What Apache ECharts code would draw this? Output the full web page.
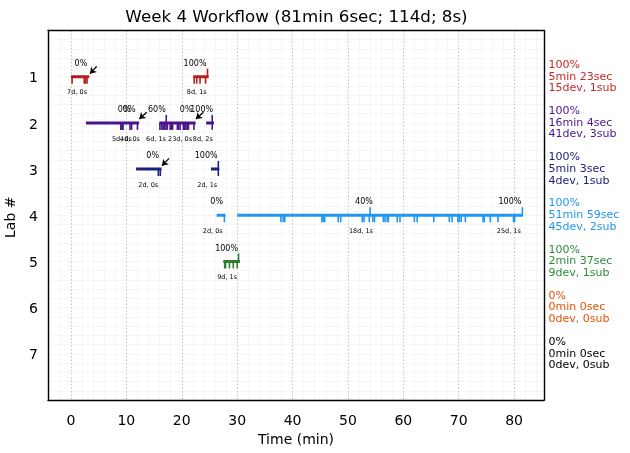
<!DOCTYPE html>
<html><head><meta charset="utf-8">
<script src="https://cdn.jsdelivr.net/npm/echarts@6/dist/echarts.min.js"></script>
<style>html,body{margin:0;padding:0;background:#fff}#c{width:630px;height:453px}</style>
</head><body><div id="c"></div>
<script>
const titleText = 'Week 4 Workflow (81min 6sec; 114d; 8s)';
const labs = [1,2,3,4,5,6,7];
const xTicks = [0,10,20,30,40,50,60,70,80];
const xMinorTicks = [-4,-2,2,4,6,8,12,14,16,18,22,24,26,28,32,34,36,38,42,44,46,48,52,54,56,58,62,64,66,68,72,74,76,78,82,84];
const labColors = ['#b71c1c','#4a148c','#1a237e','#2196f3','#2e7d32','#e65100','#000000'];
const sideColors = ['#c62828','#4a148c','#1a237e','#2196f3','#2e8b37','#e65100','#000000'];
const sideText = [
 '100%\n5min 23sec\n15dev, 1sub','100%\n16min 4sec\n41dev, 3sub','100%\n5min 3sec\n4dev, 1sub',
 '100%\n51min 59sec\n45dev, 2sub','100%\n2min 37sec\n9dev, 1sub','0%\n0min 0sec\n0dev, 0sub','0%\n0min 0sec\n0dev, 0sub'];
const workSpans = [
 [[0,3.3],[22.1,24.85]],
 [[2.7,12.3],[15.95,22.5],[24.4,25.8]],
 [[11.75,16.35],[25.27,26.77]],
 [[26.3,27.9],[30,81.6]],
 [[27.5,30.5]],[],[]];
const devTimes = [
 [0.2,2.4,2.6,2.9,22.25,22.7,23.3,24.3],
 [9,9.2,9.4,10.65,10.95,12,16.06,16.4,16.67,16.9,17.15,17.4,17.9,18.1,18.35,19.2,19.4,19.7,20.3,20.5,20.75,21,21.2,22.2,25.5],
 [15.77,16.13,26.6],
 [27.7,37.9,38.3,38.6,45.3,45.55,45.8,48.25,48.7,52.6,52.9,53.85,54.5,54.8,56.4,56.7,57.1,57.3,58.9,59.4,62,62.5,65.5,68.3,68.8,69.85,70.1,70.45,71.2,74.4,74.6,75.7,77.1,79.9,80.1],
 [27.75,27.9,28.6,29.3,30],[],[]];
const subTimes = [[24.65],[17.2,25.5],[26.6],[54,81.5],[30.25],[],[]];
const pctLabels = [
 [1.8,1,'0%'],[22.4,1,'100%'],
 [9.6,2,'0%'],[10.5,2,'0%'],[15.5,2,'60%'],[20.8,2,'0%'],[23.6,2,'100%'],
 [14.75,3,'0%'],[24.4,3,'100%'],
 [26.3,4,'0%'],[52.9,4,'40%'],[79.25,4,'100%'],
 [28.1,5,'100%']];
const gapLabels = [
 [1.1,1,'7d, 0s'],[22.7,1,'8d, 1s'],
 [9.2,2,'5d, 0s'],[10.65,2,'4d, 0s'],[15.35,2,'6d, 1s'],[19.7,2,'23d, 0s'],[23.8,2,'8d, 2s'],
 [13.95,3,'2d, 0s'],[24.6,3,'2d, 1s'],
 [25.6,4,'2d, 0s'],[52.35,4,'18d, 1s'],[79.05,4,'25d, 1s'],
 [28.2,5,'9d, 1s']];
const arrows = [
 [[4.64,0.78],[3.43,0.935]],
 [[13.67,1.77],[12.33,1.916]],
 [[23.9,1.77],[22.55,1.916]],
 [[17.7,2.77],[16.42,2.928]]];
const xMin = -4.15, xMax = 85.4;
const font = 'DejaVu Sans';

const series = [];
labs.forEach((lab,i)=>{
  const pts=[];
  workSpans[i].forEach(s=>{pts.push([s[0],lab],[s[1],lab],[null,null]);});
  series.push({type:'line',data:pts,showSymbol:false,connectNulls:false,silent:true,z:3,
    lineStyle:{color:labColors[i],width:3,cap:'butt'}});
  series.push({type:'scatter',data:devTimes[i].map(t=>[t,lab]),symbol:'rect',symbolSize:[1.6,7],symbolOffset:[0,3.5],
    itemStyle:{color:labColors[i],opacity:1},silent:true,z:3});
  series.push({type:'scatter',data:subTimes[i].map(t=>[t,lab]),symbol:'rect',symbolSize:[1.6,8],symbolOffset:[0,-4],
    itemStyle:{color:labColors[i],opacity:1},silent:true,z:3});
});
const textSeries=(arr,pos,dist,size)=>({type:'scatter',data:arr.map(a=>({value:[a[0],a[1]],label:{formatter:a[2]}})),
  symbolSize:1,itemStyle:{color:'transparent',opacity:1},silent:true,z:5,
  label:{show:true,position:pos,distance:dist,fontSize:size,fontFamily:font,color:'#000'}});
series.push(textSeries(pctLabels,'top',8.5,8));
series.push(textSeries(gapLabels,'bottom',12,6.5));
series.push({type:'lines',coordinateSystem:'cartesian2d',silent:true,z:6,
  data:arrows.map(a=>({coords:a})),symbol:['none','arrow'],symbolSize:[0,6],
  lineStyle:{color:'#000',width:1.2,opacity:1,curveness:0}});
series.push({type:'scatter',clip:false,silent:true,z:5,symbolSize:1,itemStyle:{color:'transparent',opacity:1},
  data:labs.map((lab,i)=>({value:[xMax,lab],label:{formatter:sideText[i],color:sideColors[i]}})),
  label:{show:true,position:'right',distance:4,fontSize:11,lineHeight:11.7,fontFamily:font,align:'left'}});

const majorLine = {show:true,lineStyle:{color:'#c4c4c4',type:[1.5,2],width:1}};
const minorLine = {show:true,lineStyle:{color:'#f6f6f6',width:1}};
const frame = {show:true,onZero:false,lineStyle:{color:'#000',width:1.4}};
const chart = echarts.init(document.getElementById('c'),null,{renderer:'canvas'});
chart.setOption({
  animation:false,backgroundColor:'#fff',
  title:{text:titleText,left:291.5,top:4,textAlign:'center',textStyle:{fontFamily:font,fontSize:16.7,fontWeight:'normal',color:'#000'}},
  grid:{left:48,right:86,top:30.5,height:369.5,show:false,outerBoundsMode:'none',containLabel:false},
  xAxis:[
   {type:'value',min:xMin,max:xMax,position:'bottom',name:'Time (min)',nameLocation:'middle',nameGap:28,
    nameTextStyle:{fontFamily:font,fontSize:14,color:'#000'},
    axisLine:frame,
    axisTick:{show:false,customValues:xTicks},
    axisLabel:{fontFamily:font,fontSize:14,color:'#000',margin:14,customValues:xTicks},
    splitLine:majorLine},
   {type:'value',min:xMin,max:xMax,position:'top',
    axisLine:frame,axisTick:{show:false,customValues:xMinorTicks},axisLabel:{show:false,customValues:xMinorTicks},
    splitLine:minorLine}
  ],
  yAxis:[
   {type:'value',inverse:true,min:0,max:8,interval:1,position:'left',name:'Lab #',nameLocation:'middle',nameGap:22,
    nameTextStyle:{fontFamily:font,fontSize:14,color:'#000',padding:[0,4,0,0]},
    axisLine:frame,axisTick:{show:false,customValues:labs},
    axisLabel:{margin:10,customValues:labs,formatter:'{a|{value}}',
      rich:{a:{fontFamily:font,fontSize:14,color:'#000',padding:[4,0,0,0]}}},
    splitLine:majorLine},
   {type:'value',inverse:true,min:0,max:8,interval:0.2,position:'right',
    axisLine:frame,axisTick:{show:false},axisLabel:{show:false},splitLine:minorLine}
  ],
  series:series
});
</script></body></html>
